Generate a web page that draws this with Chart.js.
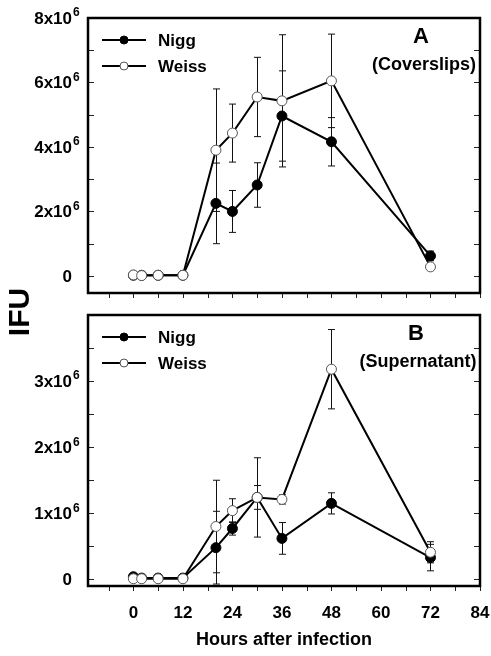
<!DOCTYPE html>
<html>
<head>
<meta charset="UTF-8">
<title>IFU - Nigg / Weiss</title>
<script src="https://cdn.jsdelivr.net/npm/chart.js"></script>
<style>
  body { margin: 0; background: #fff; }
  #wrap { position: relative; width: 491px; height: 656px; }
  canvas { position: absolute; left: 0; }
  #cA { top: 0; }
  #cB { top: 270px; }
</style>
</head>
<body>
<div id="wrap">
  <canvas id="cA" width="491" height="300"></canvas>
  <canvas id="cB" width="491" height="386"></canvas>
</div>
<script>
// hours after infection
const hours = [0, 2, 6, 12, 20, 24, 30, 36, 48, 72];

// panel A (coverslips)
const niggA     = [0.02e6, 0.02e6, 0.02e6, 0.02e6, 2.25e6, 2.0e6, 2.82e6, 4.96e6, 4.16e6, 0.62e6];
const niggAErr  = [0, 0, 0, 0, 1.25e6, 0.65e6, 0.69e6, 1.4e6, 0.75e6, 0.15e6];
const weissA    = [0.03e6, 0.01e6, 0.02e6, 0.02e6, 3.9e6, 4.43e6, 5.55e6, 5.43e6, 6.05e6, 0.28e6];
const weissAErr = [0, 0, 0, 0, 1.9e6, 0.9e6, 1.23e6, 2.05e6, 1.45e6, 0.05e6];

// panel B (supernatant)
const niggB     = [0.04e6, 0.02e6, 0.02e6, 0.02e6, 0.48e6, 0.77e6, 1.24e6, 0.62e6, 1.15e6, 0.33e6];
const niggBErr  = [0, 0, 0, 0, 0.55e6, 0.1e6, 0.18e6, 0.24e6, 0.16e6, 0.2e6];
const weissB    = [0.01e6, 0.01e6, 0.01e6, 0.01e6, 0.8e6, 1.04e6, 1.24e6, 1.21e6, 3.18e6, 0.41e6];
const weissBErr = [0, 0, 0, 0, 0.7e6, 0.18e6, 0.6e6, 0.07e6, 0.6e6, 0.16e6];

// ticks
const xMajor = [0, 12, 24, 36, 48, 60, 72, 84];
const xMinor = [-6, 6, 18, 30, 42, 54, 66, 78];
const xLabels = ['0', '12', '24', '36', '48', '60', '72', '84'];
const yMajorA = [0, 2e6, 4e6, 6e6, 8e6];
const yMinorA = [1e6, 3e6, 5e6, 7e6];
const yLabelsA = ['0', '2x10^6', '4x10^6', '6x10^6', '8x10^6'];
const yMajorB = [0, 1e6, 2e6, 3e6];
const yMinorB = [0.5e6, 1.5e6, 2.5e6, 3.5e6];
const yLabelsB = ['0', '1x10^6', '2x10^6', '3x10^6'];

const FONT = '"Liberation Sans", Arial, sans-serif';

function pts(vals) { return hours.map((h, i) => ({ x: h, y: vals[i] })); }

function makeDatasets(nigg, weiss) {
  return [
    { label: 'Weiss', data: pts(weiss), borderColor: '#000', borderWidth: 2,
      pointRadius: 5, pointBackgroundColor: '#fff', pointBorderColor: '#555', pointBorderWidth: 1 },
    { label: 'Nigg', data: pts(nigg), borderColor: '#000', borderWidth: 2,
      pointRadius: 5, pointBackgroundColor: '#000', pointBorderColor: '#000', pointBorderWidth: 1 }
  ];
}

function panelPlugin(p) {
  return {
    id: 'panel',
    beforeDatasetsDraw(chart) {
      const ctx = chart.ctx, sx = chart.scales.x, sy = chart.scales.y;
      ctx.save();
      ctx.strokeStyle = '#111';
      ctx.lineWidth = 1;
      [[p.nigg, p.niggErr], [p.weiss, p.weissErr]].forEach(([vals, errs]) => {
        vals.forEach((v, i) => {
          if (!errs[i]) return;
          const x = Math.round(sx.getPixelForValue(hours[i])) + 0.5;
          const y1 = sy.getPixelForValue(v - errs[i]);
          const y2 = sy.getPixelForValue(v + errs[i]);
          ctx.beginPath();
          ctx.moveTo(x, y1); ctx.lineTo(x, y2);
          ctx.moveTo(x - 3.5, y1); ctx.lineTo(x + 3.5, y1);
          ctx.moveTo(x - 3.5, y2); ctx.lineTo(x + 3.5, y2);
          ctx.stroke();
        });
      });
      ctx.restore();
    },
    afterDatasetsDraw(chart) {
      const ctx = chart.ctx, a = chart.chartArea, sx = chart.scales.x, sy = chart.scales.y;
      ctx.save();
      // ticks
      ctx.strokeStyle = '#222';
      ctx.lineWidth = 1;
      ctx.beginPath();
      p.yMajor.concat(p.yMinor).forEach(v => {
        const y = Math.round(sy.getPixelForValue(v)) + 0.5;
        ctx.moveTo(a.left, y); ctx.lineTo(a.left + 6, y);
        ctx.moveTo(a.right, y); ctx.lineTo(a.right - 6, y);
      });
      xMajor.concat(xMinor).forEach(v => {
        const x = Math.round(sx.getPixelForValue(v)) + 0.5;
        ctx.moveTo(x, a.bottom); ctx.lineTo(x, a.bottom + 5);
      });
      ctx.stroke();
      // box
      ctx.lineWidth = 2.5;
      ctx.strokeStyle = '#000';
      ctx.strokeRect(a.left, a.top, a.right - a.left, a.bottom - a.top);

      // y tick labels
      ctx.fillStyle = '#000';
      ctx.textBaseline = 'middle';
      p.yMajor.forEach((v, i) => {
        const y = sy.getPixelForValue(v);
        const [base, sup] = p.yLabels[i].split('^');
        ctx.font = 'bold 17px ' + FONT;
        ctx.textAlign = 'right';
        ctx.fillText(base, 72, y + 1);
        if (sup) {
          ctx.font = 'bold 12px ' + FONT;
          ctx.textAlign = 'left';
          ctx.fillText(sup, 73, y - 5);
        }
      });

      // x tick labels + title
      if (p.xText) {
        ctx.font = 'bold 17px ' + FONT;
        ctx.textAlign = 'center';
        xMajor.forEach((v, i) => ctx.fillText(xLabels[i], sx.getPixelForValue(v), a.bottom + 27));
        ctx.font = 'bold 18px ' + FONT;
        ctx.fillText('Hours after infection', (a.left + a.right) / 2, a.bottom + 54);
      }
      if (p.yTitle) {
        ctx.save();
        ctx.translate(21, p.yTitle);
        ctx.rotate(-Math.PI / 2);
        ctx.font = 'bold 30px ' + FONT;
        ctx.textAlign = 'center';
        ctx.fillText('IFU', 0, 0);
        ctx.restore();
      }

      // panel letter + subtitle
      ctx.textAlign = 'center';
      ctx.font = 'bold 22px ' + FONT;
      ctx.fillText(p.letter, p.letterX, a.top + 19);
      ctx.font = 'bold 18px ' + FONT;
      ctx.fillText(p.sub, p.subX, a.top + 47);

      // legend
      const ds = chart.data.datasets;
      [ds[1], ds[0]].forEach((d, k) => {
        const y = a.top + 22 + k * 26;
        ctx.strokeStyle = '#000';
        ctx.lineWidth = 2;
        ctx.beginPath();
        ctx.moveTo(102, y); ctx.lineTo(146, y);
        ctx.stroke();
        ctx.beginPath();
        ctx.arc(124, y, 4, 0, Math.PI * 2);
        ctx.fillStyle = d.pointBackgroundColor;
        ctx.fill();
        ctx.lineWidth = 1;
        ctx.strokeStyle = d.pointBorderColor;
        ctx.stroke();
        ctx.fillStyle = '#000';
        ctx.textAlign = 'left';
        ctx.font = 'bold 17px ' + FONT;
        ctx.fillText(d.label, 158, y + 1);
      });
      ctx.restore();
    }
  };
}

function makeChart(id, p) {
  return new Chart(document.getElementById(id), {
    type: 'line',
    data: { datasets: makeDatasets(p.nigg, p.weiss) },
    plugins: [panelPlugin(p)],
    options: {
      responsive: false,
      animation: false,
      layout: { padding: { top: p.padTop, right: 11, left: 0, bottom: 0 } },
      plugins: { legend: { display: false }, tooltip: { enabled: false } },
      elements: { line: { tension: 0 } },
      scales: {
        x: { type: 'linear', min: -11, max: 84,
             grid: { display: false }, border: { display: false }, ticks: { display: false },
             afterFit(s) { s.height = p.xHeight; } },
        y: { min: p.yMin, max: p.yMax,
             grid: { display: false }, border: { display: false }, ticks: { display: false },
             afterFit(s) { s.width = 88; } }
      }
    }
  });
}

makeChart('cA', {
  nigg: niggA, niggErr: niggAErr, weiss: weissA, weissErr: weissAErr,
  yMajor: yMajorA, yMinor: yMinorA, yLabels: yLabelsA,
  yMin: -0.53e6, yMax: 8e6, padTop: 18, xHeight: 7,
  letter: 'A', letterX: 421, sub: '(Coverslips)', subX: 424, xText: false
});

makeChart('cB', {
  nigg: niggB, niggErr: niggBErr, weiss: weissB, weissErr: weissBErr,
  yMajor: yMajorB, yMinor: yMinorB, yLabels: yLabelsB,
  yMin: -0.1e6, yMax: 4e6, padTop: 45, xHeight: 70,
  letter: 'B', letterX: 416, sub: '(Supernatant)', subX: 418, xText: true, yTitle: 42
});
</script>
</body>
</html>
